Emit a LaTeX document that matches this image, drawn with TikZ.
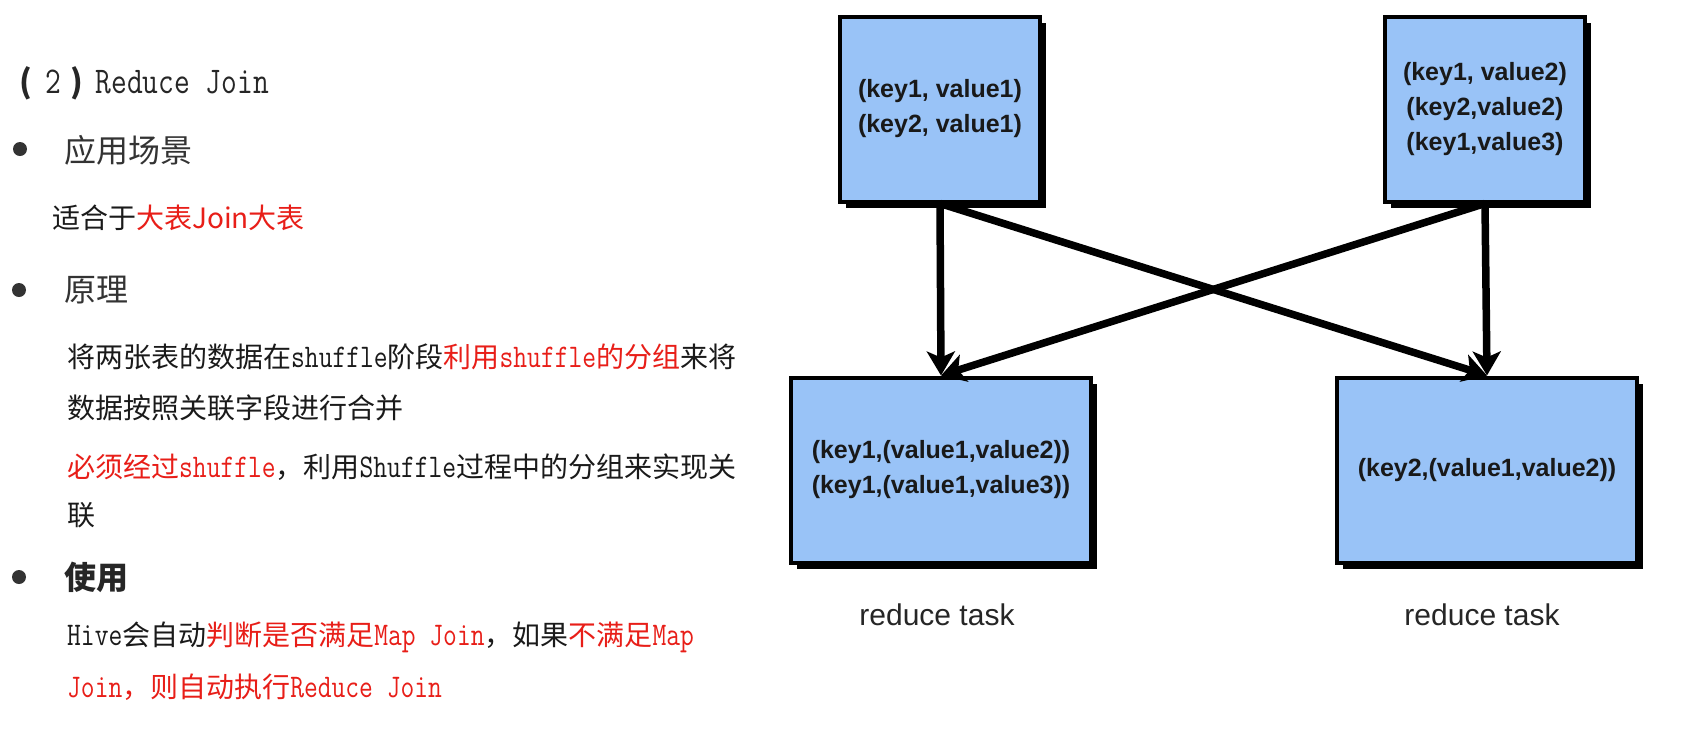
\documentclass[tikz,border=0pt]{standalone}
\usepackage{fontspec}
\setmainfont{Latin Modern Roman}
\newfontfamily\cjk{Noto Sans CJK SC}
\newfontfamily\mono[Scale=1.18,FakeStretch=0.81]{Latin Modern Mono}
\newfontfamily\boxfont{Liberation Sans}
\usetikzlibrary{arrows.meta,shadows}
\definecolor{hl}{RGB}{232,30,24}
\definecolor{boxblue}{RGB}{153,195,247}
\definecolor{txt}{RGB}{26,26,26}
\definecolor{head}{RGB}{51,51,51}
\begin{document}
\begin{tikzpicture}[x=1pt,y=-1pt,
  txtline/.style={anchor=west,inner sep=0pt,font=\cjk\fontsize{28}{34}\selectfont,text=txt},
  headline/.style={anchor=west,inner sep=0pt,font=\cjk\fontsize{32}{38}\selectfont,text=head},
  bulletdot/.style={circle,fill=head,minimum size=14pt,inner sep=0pt},
  databox/.style={draw=black,line width=4pt,fill=boxblue,inner sep=0pt,minimum height=185pt,align=center,
    font=\boxfont\bfseries\fontsize{25}{35}\selectfont,text=black!90,
    drop shadow={shadow xshift=6pt,shadow yshift=-6pt,fill=black,opacity=1}},
  flow/.style={line width=7.5pt,-{Stealth[length=24pt,width=28pt,inset=6pt]}},
  tasklabel/.style={font=\boxfont\fontsize{30}{36}\selectfont,text=black!85}
]
\fill[white] (0,0) rectangle (1682,729);
\useasboundingbox (0,0) rectangle (1682,729);

% left column
\node[headline,text=black!85] (title) at (19,83) {{\bfseries (}\hspace{13pt}{\mono 2}\hspace{10pt}{\bfseries )}\hspace{12pt}{\mono Reduce Join}};
\node[bulletdot] (d1) at (20,149) {};
\node[headline] (h1) at (64,150) {应用场景};
\node[txtline] (fit) at (52,218) {适合于\textcolor{hl}{大表Join大表}};
\node[bulletdot] (d2) at (19,290) {};
\node[headline] (h2) at (64,290) {原理};
\node[txtline] (p1) at (67,357) {将两张表的数据在{\mono shuffle}阶段\textcolor{hl}{利用{\mono shuffle}的分组}来将};
\node[txtline] (p2) at (67,408) {数据按照关联字段进行合并};
\node[txtline] (p3) at (67,467) {\textcolor{hl}{必须经过{\mono shuffle}}，利用{\mono Shuffle}过程中的分组来实现关};
\node[txtline] (p4) at (67,515) {联};
\node[bulletdot] (d3) at (19,577) {};
\node[headline,font=\cjk\bfseries\fontsize{32}{38}\selectfont,text=black!85] (h3) at (64,577) {使用};
\node[txtline] (u1) at (67,637) {{\mono Hive}会自动\textcolor{hl}{判断是否满足{\mono Map Join}}，如果\textcolor{hl}{不满足{\mono Map}}};
\node[txtline] (u2) at (67,687) {\textcolor{hl}{{\mono Join}，则自动执行{\mono Reduce Join}}};

% right diagram
\node[databox,minimum width=200pt] (b1) at (940,109) {(key1, value1)\\(key2, value1)};
\node[databox,minimum width=200pt] (b2) at (1485,109) {(key1, value2)\\(key2,value2)\\(key1,value3)};
\node[databox,minimum width=300pt] (b3) at (941,470) {(key1,(value1,value2))\\(key1,(value1,value3))};
\node[databox,minimum width=300pt] (b4) at (1487,470) {(key2,(value1,value2))};
\node[tasklabel] (t3) at (937,615) {reduce task};
\node[tasklabel] (t4) at (1482,615) {reduce task};

\draw[flow] (b1.south) -- (b3.north);
\draw[flow] (b1.south) -- (b4.north);
\draw[flow] (b2.south) -- (b4.north);
\draw[flow] (b2.south) -- (b3.north);
\end{tikzpicture}
\end{document}
